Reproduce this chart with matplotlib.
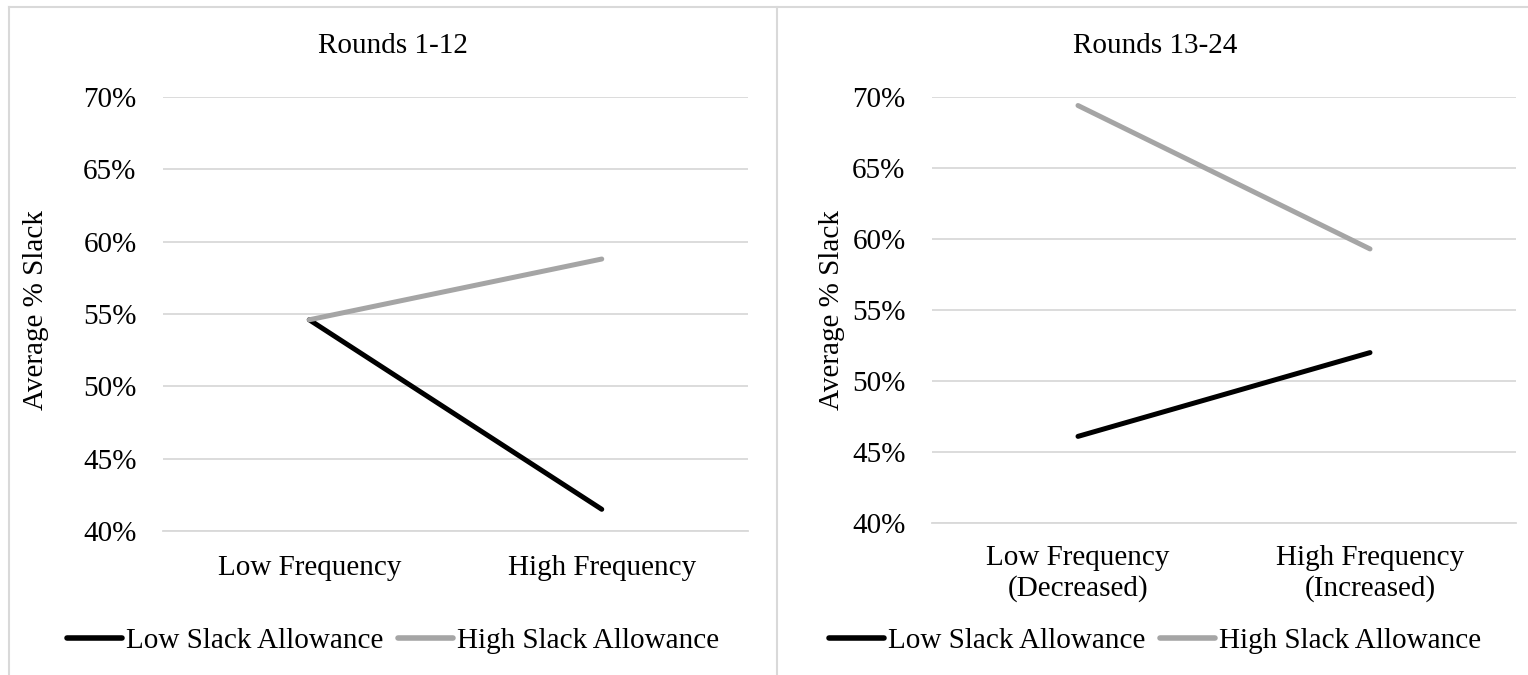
import matplotlib
matplotlib.use("Agg")
import matplotlib.pyplot as plt
from matplotlib.lines import Line2D
from matplotlib.ticker import PercentFormatter

plt.rcParams['font.family'] = ['Liberation Serif', 'DejaVu Serif']
plt.rcParams['font.size'] = 21

# average % slack by reporting frequency
titles = ["Rounds 1-12", "Rounds 13-24"]
categories = [
    ["Low Frequency", "High Frequency"],
    ["Low Frequency\n(Decreased)", "High Frequency\n(Increased)"],
]
low_slack = [[54.6, 41.5], [46.1, 52.0]]
high_slack = [[54.6, 58.8], [69.4, 59.3]]
series_names = ["Low Slack Allowance", "High Slack Allowance"]
yticks = [40, 45, 50, 55, 60, 65, 70]

W, H = 1528, 675
fig = plt.figure(figsize=(W / 100, H / 100), dpi=100)

def px(x0, y0, x1, y1):
    # pixel box (top-left origin) -> figure fraction rect
    return [x0 / W, 1 - y1 / H, (x1 - x0) / W, (y1 - y0) / H]

grid_c = "#d9d9d9"
gray = "#a5a5a5"

boxes = [px(163, 97, 748, 531), px(932, 97, 1516, 523)]
panel_mid = [393, 1155]
xpads = [17.5, 16]

for i in range(2):
    ax = fig.add_axes(boxes[i])
    x = range(len(categories[i]))
    ax.plot(x, low_slack[i], color="black", lw=3.6, solid_capstyle="round",
            label=series_names[0], zorder=3)
    ax.plot(x, high_slack[i], color=gray, lw=3.6, solid_capstyle="round",
            label=series_names[1], zorder=3)
    ax.set_xlim(-0.5, 1.5)
    ax.set_ylim(40, 70)
    ax.set_yticks(yticks)
    ax.yaxis.set_major_formatter(PercentFormatter(decimals=0))
    ax.set_xticks(list(x))
    ax.set_xticklabels(categories[i])
    ax.grid(axis="y", color=grid_c, lw=1.3)
    ax.set_axisbelow(True)
    for s in ["top", "right", "left"]:
        ax.spines[s].set_visible(False)
    ax.spines["bottom"].set_color(grid_c)
    ax.spines["bottom"].set_linewidth(1.3)
    ax.tick_params(axis="y", length=0, pad=19)
    ax.tick_params(axis="x", length=0, pad=xpads[i])

    fig.text(panel_mid[i] / W, 1 - 46 / H, titles[i], ha="center", va="center")
    ylab_x = 36 if i == 0 else 832
    fig.text(ylab_x / W, 1 - 310 / H, "Average % Slack", rotation=90,
             ha="center", va="center")

    leg = ax.legend(loc="center", bbox_to_anchor=(panel_mid[i] / W, 1 - 641 / H),
                    bbox_transform=fig.transFigure, ncol=2, frameon=False,
                    handlelength=1.9, handletextpad=0.12, columnspacing=0.5,
                    borderpad=0, borderaxespad=0)
    for h in leg.legend_handles:
        h.set_linewidth(4)

# panel outlines
for coords in [([9, 9], [7, 700]), ([777, 777], [7, 700]), ([9, 1540], [7, 7])]:
    xs = [c / W for c in coords[0]]
    ys = [1 - c / H for c in coords[1]]
    fig.add_artist(Line2D(xs, ys, color=grid_c, lw=1.5, transform=fig.transFigure))

fig.savefig("out.png", dpi=100)
